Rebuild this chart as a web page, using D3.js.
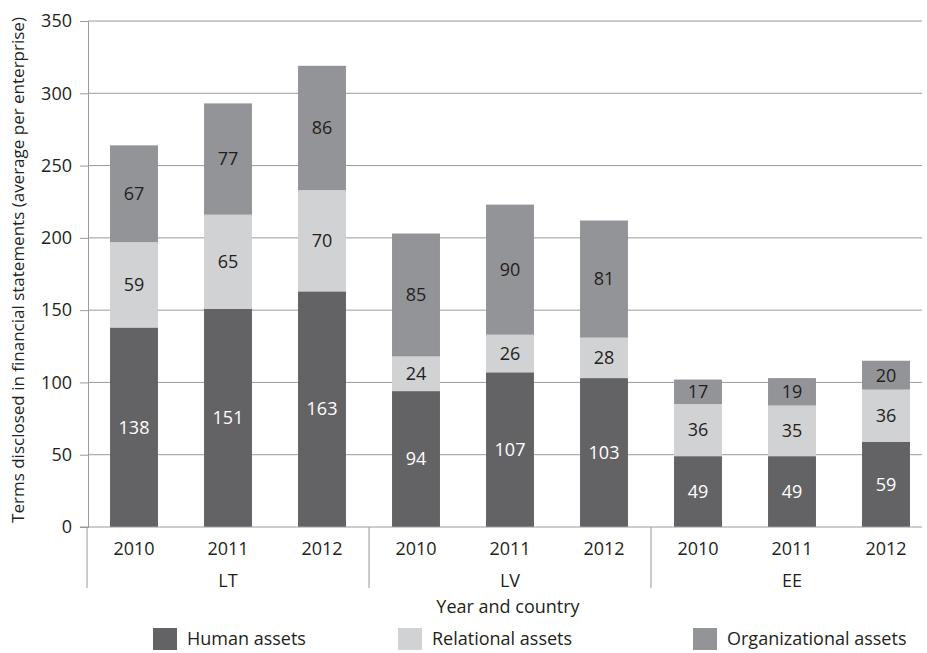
<!DOCTYPE html>
<html>
<head>
<meta charset="utf-8">
<script src="https://cdn.jsdelivr.net/npm/d3@7"></script>
<style>
  body { margin: 0; background: #fff; }
  svg text { font-family: "Open Sans", "Noto Sans", sans-serif; fill: #231f20; }
</style>
</head>
<body>
<svg width="927" height="653"></svg>
<script>
var countries = ["LT", "LV", "EE"];
var years = ["2010", "2011", "2012"];
var seriesNames = ["Human assets", "Relational assets", "Organizational assets"];
var seriesColors = ["#636365", "#d1d2d4", "#939497"];
var human = [138, 151, 163, 94, 107, 103, 49, 49, 59];
var relational = [59, 65, 70, 24, 26, 28, 36, 35, 36];
var organizational = [67, 77, 86, 85, 90, 81, 17, 19, 20];
var yTicks = [0, 50, 100, 150, 200, 250, 300, 350];

var svg = d3.select("svg");
var plotLeft = 88, plotRight = 922, bandEnd = 933, plotTop = 21, plotBottom = 527;
var fs = 18;

// one row per bar
var rows = [];
countries.forEach(function (c, ci) {
    years.forEach(function (yr, yi) {
        var i = ci * 3 + yi;
        rows.push({ key: c + "-" + yr, country: c, year: yr,
            "Human assets": human[i], "Relational assets": relational[i], "Organizational assets": organizational[i] });
    });
});

var x = d3.scaleBand()
    .domain(rows.map(function (d) { return d.key; }))
    .range([plotLeft - 1, bandEnd])
    .paddingInner(0.49)
    .paddingOuter(0.245);

var y = d3.scaleLinear().domain([0, 350]).range([plotBottom, plotTop]);

var color = d3.scaleOrdinal().domain(seriesNames).range(seriesColors);

// gridlines
svg.append("g").selectAll("line")
    .data(yTicks.filter(function (t) { return t > 0; }))
    .enter().append("line")
    .attr("x1", plotLeft).attr("x2", plotRight)
    .attr("y1", function (d) { return y(d); })
    .attr("y2", function (d) { return y(d); })
    .attr("stroke", "#9a9a9c").attr("stroke-width", 1);

// y axis
var yAxis = svg.append("g")
    .attr("transform", "translate(" + plotLeft + ",0)")
    .call(d3.axisLeft(y).tickValues(yTicks).tickSize(8).tickPadding(8));
yAxis.select(".domain").attr("stroke", "#9a9a9c");
yAxis.selectAll(".tick line").attr("stroke", "#9a9a9c");
yAxis.selectAll(".tick text").attr("font-size", fs).attr("fill", "#231f20");

// stacked bars
var stack = d3.stack().keys(seriesNames)(rows);

var layers = svg.append("g").selectAll("g")
    .data(stack)
    .enter().append("g")
    .attr("fill", function (d) { return color(d.key); });

layers.selectAll("rect")
    .data(function (d) { return d; })
    .enter().append("rect")
    .attr("x", function (d) { return x(d.data.key); })
    .attr("y", function (d) { return y(d[1]); })
    .attr("width", x.bandwidth())
    .attr("height", function (d) { return y(d[0]) - y(d[1]); });

layers.selectAll("text")
    .data(function (d) { return d.map(function (p) { p.series = d.key; return p; }); })
    .enter().append("text")
    .attr("x", function (d) { return x(d.data.key) + x.bandwidth() / 2; })
    .attr("y", function (d) { return (y(d[0]) + y(d[1])) / 2; })
    .attr("dy", "0.35em")
    .attr("text-anchor", "middle")
    .attr("font-size", fs)
    .style("fill", function (d) { return d.series === "Human assets" ? "#ffffff" : "#231f20"; })
    .text(function (d) { return d[1] - d[0]; });

// x axis baseline
svg.append("line")
    .attr("x1", plotLeft - 8).attr("x2", plotRight)
    .attr("y1", plotBottom).attr("y2", plotBottom)
    .attr("stroke", "#9a9a9c");

// year labels
svg.append("g").selectAll("text")
    .data(rows)
    .enter().append("text")
    .attr("x", function (d) { return x(d.key) + x.bandwidth() / 2; })
    .attr("y", 555)
    .attr("text-anchor", "middle")
    .attr("font-size", fs)
    .text(function (d) { return d.year; });

// country group separators and labels
var step = x.step();
countries.forEach(function (c) {
    var g0 = x(c + "-" + years[0]) - x.paddingInner() * step / 2;
    var center = x(c + "-" + years[1]) + x.bandwidth() / 2;
    svg.append("line")
        .attr("x1", g0).attr("x2", g0)
        .attr("y1", plotBottom).attr("y2", 588)
        .attr("stroke", "#9a9a9c");
    svg.append("text")
        .attr("x", center).attr("y", 587)
        .attr("text-anchor", "middle")
        .attr("font-size", fs)
        .text(c);
});

// axis titles
svg.append("text")
    .attr("x", 508).attr("y", 613)
    .attr("text-anchor", "middle")
    .attr("font-size", fs)
    .text("Year and country");

svg.append("text")
    .attr("transform", "translate(24,270) rotate(-90)")
    .attr("text-anchor", "middle")
    .attr("font-size", 17)
    .text("Terms disclosed in financial statements (average per enterprise)");

// legend
var legendX = [153, 398, 693];
var legend = svg.append("g").selectAll("g")
    .data(seriesNames)
    .enter().append("g")
    .attr("transform", function (d, i) { return "translate(" + legendX[i] + ",628)"; });
legend.append("rect")
    .attr("width", 24).attr("height", 22)
    .attr("fill", function (d) { return color(d); });
legend.append("text")
    .attr("x", 34).attr("y", 11).attr("dy", "0.35em")
    .attr("font-size", fs)
    .text(function (d) { return d; });
</script>
</body>
</html>
